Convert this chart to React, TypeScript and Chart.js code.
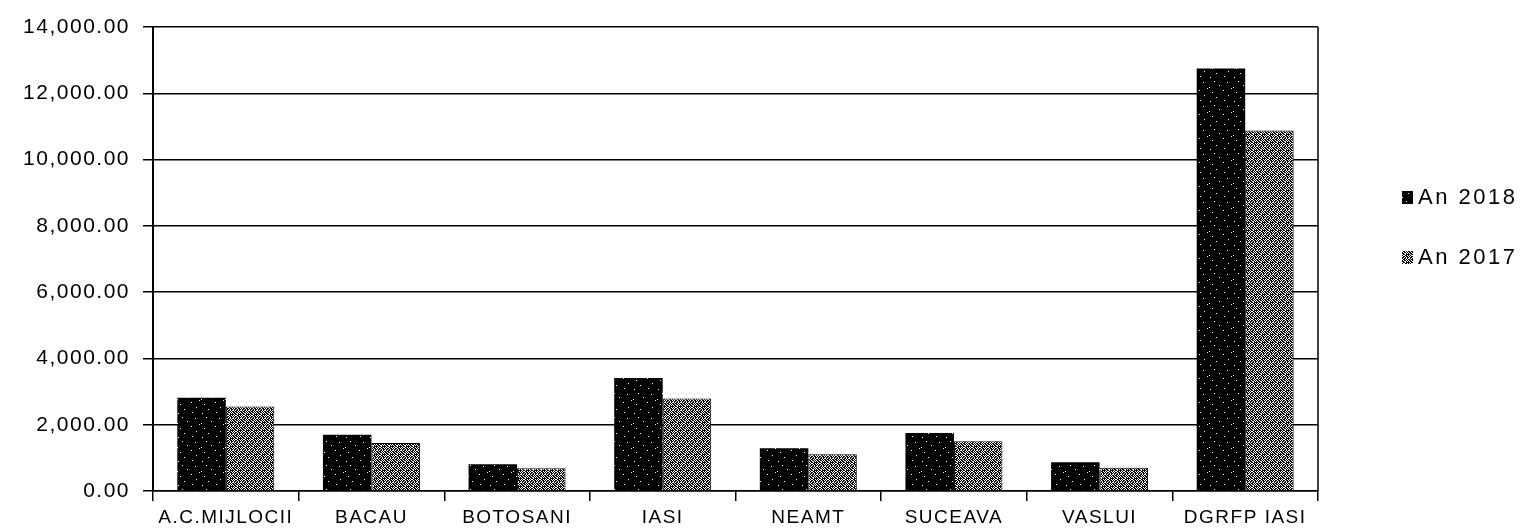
import { useEffect, useRef } from "react";
import { Chart, registerables } from "chart.js";

Chart.register(...registerables);

const categories = ["A.C.MIJLOCII", "BACAU", "BOTOSANI", "IASI", "NEAMT", "SUCEAVA", "VASLUI", "DGRFP IASI"];
const seriesLabels = ["An 2018", "An 2017"];
const values2018 = [2810, 1700, 810, 3410, 1290, 1750, 870, 12750];
const values2017 = [2550, 1450, 690, 2790, 1110, 1500, 700, 10880];
const yMin = 0;
const yMax = 14000;
const yStep = 2000;

const FONT = '"Liberation Sans", Arial, sans-serif';

const pattern2018 = [
  "000000000000000000000000",
  "000000100000000000000000",
  "000000000000000000010000",
  "000000000000000000000000",
  "000000000000000000000000",
  "000000000001000000000000",
  "000000000000000000000000",
  "010000000000000000000000",
  "000000000000000000000001",
  "000000000000000000000000",
  "000000000000000100000000",
  "000000000000000000000000",
  "000010000000000000000000",
  "000000000000000000000000",
  "000000000000000000000000",
  "000000000000000000001000",
  "000000000000000000000000",
  "000000001000000000000000",
  "000000000000000000000000",
  "000000000000000000000000",
  "000000000000000010000000",
  "001000000000000000000000",
  "000000000000000000000000",
  "000000000000000000000000",
];

const pattern2017 = [
  "10100100",
  "01001010",
  "11010010",
  "00100101",
  "10010010",
  "01001101",
  "00100100",
  "01011001",
];

function makePattern(ctx: CanvasRenderingContext2D, rows: string[], on: string, off: string) {
  const c = document.createElement("canvas");
  c.width = rows[0].length;
  c.height = rows.length;
  const g = c.getContext("2d")!;
  rows.forEach((r, y) => {
    r.split("").forEach((ch, x) => {
      g.fillStyle = ch === "1" ? on : off;
      g.fillRect(x, y, 1, 1);
    });
  });
  return ctx.createPattern(c, "repeat")!;
}

const spacingPlugin = {
  id: "letterSpacing",
  beforeUpdate(chart: any) {
    (chart.ctx as any).letterSpacing = "1.5px";
  },
  beforeDraw(chart: any) {
    (chart.ctx as any).letterSpacing = "1.5px";
  },
};

const framePlugin = {
  id: "frame",
  afterDraw(chart: any) {
    const { ctx, chartArea } = chart;
    ctx.save();
    ctx.strokeStyle = "#000";
    ctx.lineWidth = 1.5;
    ctx.beginPath();
    ctx.moveTo(chartArea.right, chartArea.top);
    ctx.lineTo(chartArea.right, chartArea.bottom);
    ctx.stroke();
    ctx.restore();
  },
};

const legendPlugin = {
  id: "sideLegend",
  afterDraw(chart: any) {
    const ctx = chart.ctx;
    ctx.save();
    (ctx as any).letterSpacing = "2.5px";
    ctx.font = `22px ${FONT}`;
    ctx.textBaseline = "middle";
    ctx.textAlign = "left";
    const ys = [189, 249];
    chart.data.datasets.forEach((ds: any, i: number) => {
      const y = ys[i];
      ctx.fillStyle = ds.backgroundColor;
      ctx.fillRect(1394, y - 6, 11, 13);
      ctx.fillStyle = "#000";
      ctx.fillText(ds.label, 1410, y + 1);
    });
    ctx.restore();
  },
};

export default function App() {
  const ref = useRef<HTMLCanvasElement | null>(null);

  useEffect(() => {
    const canvas = ref.current!;
    const ctx = canvas.getContext("2d")!;
    const fill2018 = makePattern(ctx, pattern2018, "#ffffff", "#000000");
    const fill2017 = makePattern(ctx, pattern2017, "#ffffff", "#000000");

    const chart = new Chart(canvas, {
      type: "bar",
      data: {
        labels: categories,
        datasets: [
          {
            label: seriesLabels[0],
            data: values2018,
            backgroundColor: fill2018 as any,
            borderColor: "#000",
            borderWidth: 0,
            categoryPercentage: 0.666,
            barPercentage: 1,
          },
          {
            label: seriesLabels[1],
            data: values2017,
            backgroundColor: fill2017 as any,
            borderColor: "#000",
            borderWidth: 1,
            categoryPercentage: 0.666,
            barPercentage: 1,
          },
        ],
      },
      options: {
        animation: false,
        responsive: false,
        events: [],
        layout: { padding: { top: 19, right: 204, left: 0, bottom: 0 } },
        plugins: {
          legend: { display: false },
          tooltip: { enabled: false },
          title: { display: false },
        },
        scales: {
          x: {
            grid: {
              offset: true,
              drawOnChartArea: false,
              drawTicks: true,
              tickLength: 10,
              color: "#000",
              lineWidth: 1.5,
            },
            border: { display: true, color: "#000", width: 1.5 },
            ticks: {
              color: "#000",
              font: { family: FONT, size: 19 },
              padding: 5,
              maxRotation: 0,
              autoSkip: false,
            },
            afterFit: (s: any) => {
              s.height = 32;
              s.paddingLeft = 0;
              s.paddingRight = 0;
            },
          },
          y: {
            min: yMin,
            max: yMax,
            ticks: {
              stepSize: yStep,
              color: "#000",
              font: { family: FONT, size: 21 },
              padding: 13,
              callback: (v: any) =>
                Number(v).toLocaleString("en-US", { minimumFractionDigits: 2, maximumFractionDigits: 2 }),
            },
            grid: { color: "#000", lineWidth: 1.5, tickLength: 10, drawTicks: true },
            border: { display: true, color: "#000", width: 2 },
            afterFit: (s: any) => {
              s.width = 145;
              s.paddingTop = 0;
              s.paddingBottom = 0;
            },
          },
        },
      },
      plugins: [spacingPlugin, framePlugin, legendPlugin],
    });

    return () => chart.destroy();
  }, []);

  return (
    <div style={{ width: 1514, height: 515 }}>
      <canvas ref={ref} width={1514} height={515} style={{ display: "block" }} />
    </div>
  );
}
